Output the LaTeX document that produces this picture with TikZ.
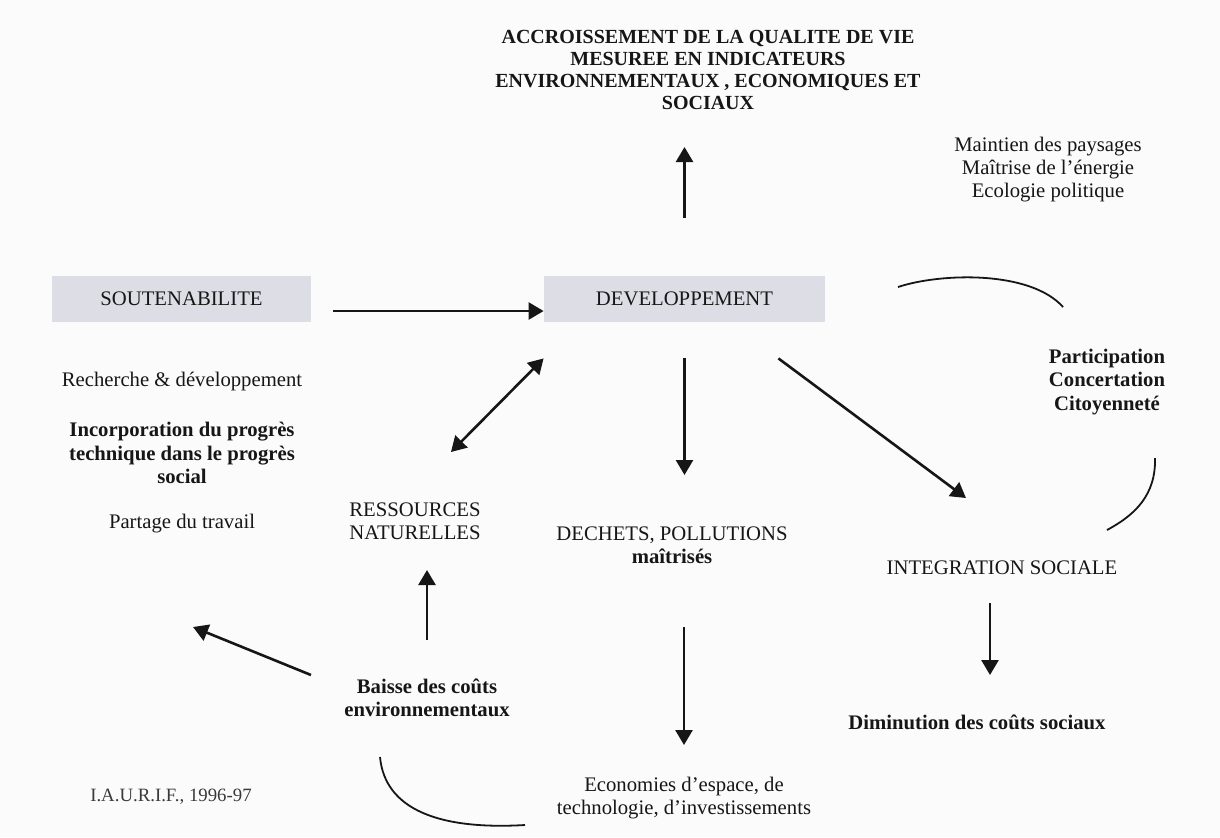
\documentclass[tikz,border=0pt]{standalone}
\usepackage{fontspec}
\setmainfont{Liberation Serif}
\usepackage{tikz}
\usetikzlibrary{arrows.meta}
\definecolor{fondgris}{RGB}{251,251,251}
\definecolor{boitegris}{RGB}{221,221,229}
\definecolor{encre}{RGB}{22,22,22}

\begin{document}
\begin{tikzpicture}[
    x=0.5pt,y=-0.5pt,
    >={Triangle[length=7.5pt,width=8.5pt]},
    txt/.style={inner sep=0pt,align=center,text=encre,
                font=\fontsize{10.35}{11.5}\selectfont},
    gras/.style={txt,font=\fontsize{10.35}{11.6}\selectfont\bfseries},
    boite/.style={txt,fill=boitegris,minimum width=129.5pt,
                  minimum height=23pt},
    fleche/.style={->,line width=1.3pt,draw=encre},
    dfleche/.style={<->,line width=1.3pt,draw=encre},
    courbe/.style={line width=0.9pt,draw=encre},
  ]
    \path[fill=fondgris] (0,0) rectangle (1220,837);
    \node[gras,font=\fontsize{10}{11}\selectfont\bfseries](titre) at (708,70)
      {ACCROISSEMENT DE LA QUALITE DE VIE\\MESUREE EN INDICATEURS\\
       ENVIRONNEMENTAUX , ECONOMIQUES ET\\SOCIAUX};
    \node[txt](maintien) at (1048,170)
      {Maintien des paysages\\Maîtrise de l’énergie\\Ecologie politique};
    \node[boite](sout) at (181.5,299){SOUTENABILITE};
    \node[boite,minimum width=140.5pt](dev) at (684.5,299){DEVELOPPEMENT};
    \node[txt](recherche) at (182,381){Recherche \& développement};
    \node[gras](incorp) at (182,453)
      {Incorporation du progrès\\technique dans le progrès\\social};
    \node[txt](partage) at (182,524){Partage du travail};
    \node[txt](ressources) at (415,521){RESSOURCES\\NATURELLES};
    \node[txt](dechets) at (672,545){DECHETS, POLLUTIONS\\\textbf{maîtrisés}};
    \node[txt](integ) at (1002,568){INTEGRATION SOCIALE};
    \node[gras](particip) at (1107,382){Participation\\Concertation\\Citoyenneté};
    \node[gras](baisse) at (427,698){Baisse des coûts\\environnementaux};
    \node[gras](couts) at (977,722){Diminution des coûts sociaux};
    \node[txt](economies) at (684,798)
      {Economies d’espace, de\\technologie, d’investissements};
    \node[txt,font=\fontsize{9.4}{11}\selectfont,text=encre!85](iaurif) at (171,797)
      {I.A.U.R.I.F., 1996-97};
    \coordinate (gauche) at (193,627);
    \draw[fleche,shorten <=40.5pt,shorten >=38.5pt](dev.center)--(dev.center |- titre.center);
    \draw[fleche,shorten <=11pt]([yshift=-6pt]sout.east)--([yshift=-6pt]dev.west);
    \draw[dfleche]([shift={(36,-69)}]ressources.center)--([yshift=-18pt]dev.south west);
    \draw[fleche,shorten <=29.5pt,shorten >=35pt](dev.center)--(dev.center |- dechets.center);
    \draw[fleche]([shift={(-47,36)}]dev.south east)--([shift={(-36,-70)}]integ.center);
    \draw[fleche,shorten <=29pt,shorten >=24.5pt](baisse.center)--(baisse.center |- ressources.center);
    \draw[fleche]([shift={(-116,-23)}]baisse.center)--(gauche);
    \draw[fleche,shorten <=41pt,shorten >=26.5pt](economies.center |- dechets.center)--(economies.center);
    \draw[fleche]([shift={(-12,35)}]integ.center)--([shift={(13,-47)}]couts.center);
    \draw[courbe]([shift={(-209,-95)}]particip.center)
      .. controls +(42,-14) and +(-33,-37) .. ([shift={(-44,-75)}]particip.center);
    \draw[courbe]([shift={(48,76)}]particip.center)
      .. controls +(1,37) and +(28,-15) .. ([shift={(0,148)}]particip.center);
    \draw[courbe]([shift={(-47,59)}]baisse.center)
      .. controls +(5,53) and +(-85,5) .. ([shift={(-159,27)}]economies.center);
  \end{tikzpicture}
\end{document}
